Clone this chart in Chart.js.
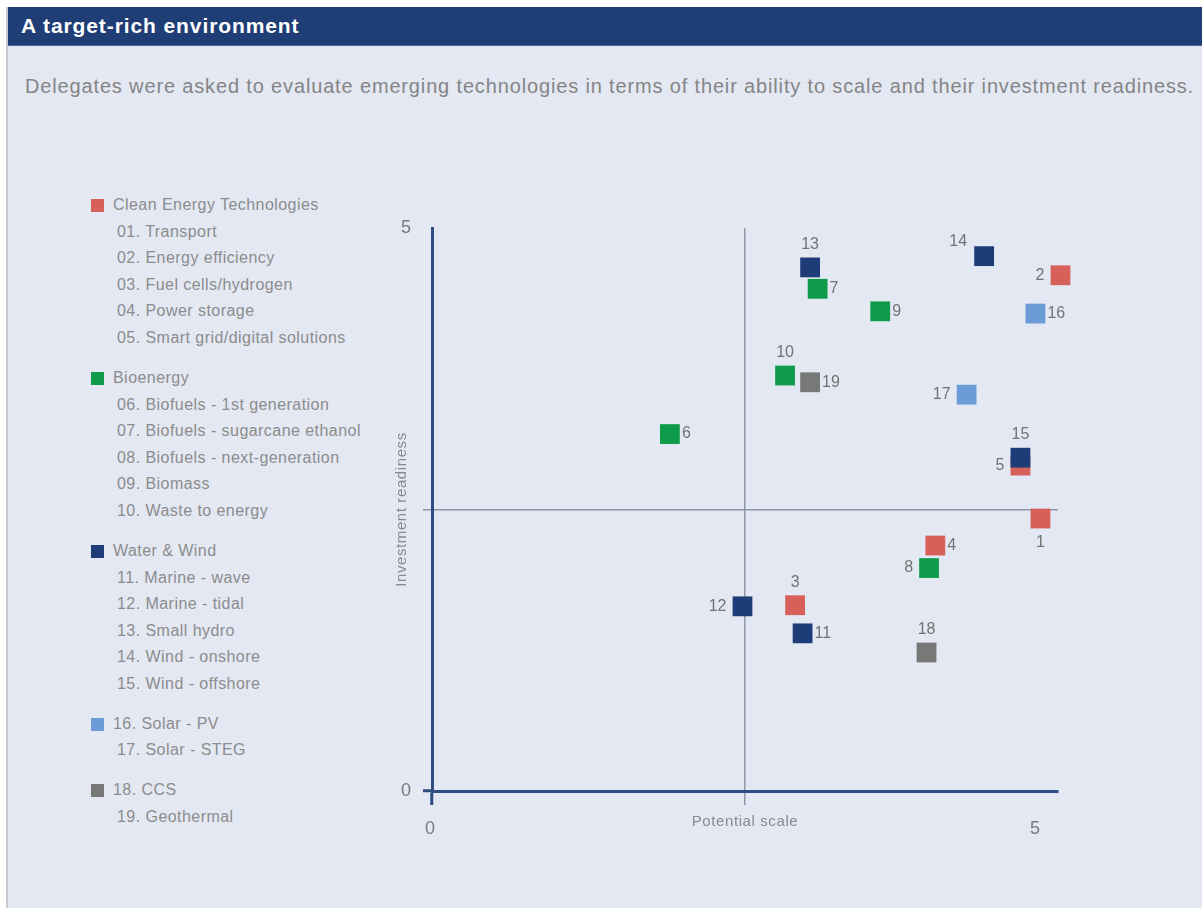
<!DOCTYPE html>
<html>
<head>
<meta charset="utf-8">
<title>A target-rich environment</title>
<script src="https://cdn.jsdelivr.net/npm/chart.js@4"></script>
<style>
  body { margin: 0; width: 1202px; height: 910px; background: #fff; position: relative; overflow: hidden;
         font-family: "Liberation Sans", Arial, sans-serif; }
  #panel { position: absolute; left: 6px; top: 7px; right: 0; bottom: 2px; background: #e3e8f3;
           border-left: 2px solid #c3c8d1; }
  #head { position: absolute; left: 0; top: 0; right: 0; height: 38px; background: #1f3e76;
          border-bottom: 1px solid #4a6898; color: #fff; font-weight: bold; font-size: 21px;
          letter-spacing: 0.9px; line-height: 37px; padding-left: 13px; }
  #sub { position: absolute; left: 17px; top: 68px; font-size: 20px; letter-spacing: 0.85px;
         color: #858585; white-space: nowrap; }
  #legend { position: absolute; left: 0; top: 185px; font-size: 16px; letter-spacing: 0.45px; color: #8c8c8c; }
  .row { position: relative; height: 26.6px; line-height: 26.6px; padding-left: 105px; white-space: nowrap; }
  .row.sub { padding-left: 109px; }
  .row.gap { margin-top: 13.4px; }
  .sw { position: absolute; left: 83px; top: 7px; width: 13px; height: 13px; }
  #plot { position: absolute; left: 332px; top: 193px; width: 760px; height: 680px; }
</style>
</head>
<body>
<div id="panel">
  <div id="head">A target-rich environment</div>
  <div id="sub">Delegates were asked to evaluate emerging technologies in terms of their ability to scale and their investment readiness.</div>
  <div id="legend"></div>
  <div id="plot"><canvas id="matrix"></canvas></div>
</div>
<script>
// technology groups and their colours
const groupNames = ['Clean Energy Technologies', 'Bioenergy', 'Water & Wind', null, null];
const groupColors = ['#d8605b', '#0f9c4a', '#1e3d78', '#6b9cd7', '#787878'];

// one entry per technology, numbered 1..19
const techNames = [
  'Transport', 'Energy efficiency', 'Fuel cells/hydrogen', 'Power storage', 'Smart grid/digital solutions',
  'Biofuels - 1st generation', 'Biofuels - sugarcane ethanol', 'Biofuels - next-generation', 'Biomass', 'Waste to energy',
  'Marine - wave', 'Marine - tidal', 'Small hydro', 'Wind - onshore', 'Wind - offshore',
  'Solar - PV', 'Solar - STEG',
  'CCS', 'Geothermal'
];
const techGroup = [0, 0, 0, 0, 0, 1, 1, 1, 1, 1, 2, 2, 2, 2, 2, 3, 3, 4, 4];
const potentialScale = [4.86, 5.02, 2.9, 4.02, 4.7, 1.9, 3.08, 3.97, 3.58, 2.82,
                        2.96, 2.48, 3.02, 4.41, 4.7, 4.82, 4.27, 3.95, 3.02];
const investmentReadiness = [2.42, 4.58, 1.65, 2.18, 2.89, 3.17, 4.46, 1.98, 4.26, 3.69,
                             1.4, 1.64, 4.65, 4.75, 2.96, 4.24, 3.52, 1.23, 3.63];

// which side of its marker each number is written on
const labelSide = ['bottom', 'left', 'top', 'right', 'left', 'right', 'right', 'left', 'right', 'top',
                   'right', 'left', 'top', 'upleft', 'top', 'right', 'left', 'top', 'right'];

const axisColor = '#2f4d82';
const midColor = '#8c97a9';
const textGrey = '#7a7a7a';
const fontFamily = '"Liberation Sans", Arial, sans-serif';

// legend on the left
const legend = document.getElementById('legend');
techNames.forEach((name, i) => {
  const g = techGroup[i];
  const first = i === 0 || techGroup[i - 1] !== g;
  const swatch = '<span class="sw" style="background:' + groupColors[g] + '"></span>';
  if (first && groupNames[g]) {
    const head = document.createElement('div');
    head.className = 'row' + (i > 0 ? ' gap' : '');
    head.innerHTML = swatch + groupNames[g];
    legend.appendChild(head);
  }
  const row = document.createElement('div');
  const ownSwatch = first && !groupNames[g];
  row.className = 'row' + (ownSwatch ? ' gap' : ' sub');
  row.innerHTML = (ownSwatch ? swatch : '') + String(i + 1).padStart(2, '0') + '. ' + name;
  legend.appendChild(row);
});

// one scatter dataset per group; later groups sit on top
const datasets = groupColors.map((color, g) => ({
  data: techNames.map((n, i) => ({ x: potentialScale[i], y: investmentReadiness[i], n: i + 1 }))
                 .filter((p) => techGroup[p.n - 1] === g),
  backgroundColor: color,
  borderWidth: 0,
  pointStyle: 'rect',
  pointRadius: 14,
  pointHoverRadius: 14,
  order: groupColors.length - g,
  clip: false
}));

// numbers next to the markers
const numberLabels = {
  id: 'numberLabels',
  afterDatasetsDraw(chart) {
    const ctx = chart.ctx;
    ctx.save();
    ctx.font = '16px ' + fontFamily;
    ctx.fillStyle = '#737373';
    ctx.textBaseline = 'middle';
    chart.data.datasets.forEach((ds, di) => {
      chart.getDatasetMeta(di).data.forEach((pt, j) => {
        const n = ds.data[j].n;
        const side = labelSide[n - 1];
        let x = pt.x, y = pt.y;
        if (side === 'right') { ctx.textAlign = 'left'; x += 12; }
        else if (side === 'left') { ctx.textAlign = 'right'; x -= 16; }
        else if (side === 'upleft') { ctx.textAlign = 'right'; x -= 17; y -= 15; }
        else if (side === 'top') { ctx.textAlign = 'center'; y -= 23; }
        else { ctx.textAlign = 'center'; y += 24; }
        ctx.fillText(String(n), x, y);
      });
    });
    ctx.restore();
  }
};

// tick numbers and axis titles
const axisText = {
  id: 'axisText',
  afterDraw(chart) {
    const { ctx, chartArea, scales } = chart;
    const xs = scales.x, ys = scales.y;
    ctx.save();
    ctx.fillStyle = textGrey;
    ctx.textBaseline = 'middle';
    ctx.font = '18px ' + fontFamily;
    ctx.textAlign = 'right';
    ctx.fillText('5', chartArea.left - 21, ys.getPixelForValue(5));
    ctx.fillText('0', chartArea.left - 21, ys.getPixelForValue(0));
    ctx.textAlign = 'center';
    ctx.fillText('0', xs.getPixelForValue(0) - 2, chartArea.bottom + 38);
    ctx.fillText('5', xs.getPixelForValue(5) - 23, chartArea.bottom + 38);
    ctx.font = '15px ' + fontFamily;
    ctx.letterSpacing = '0.6px';
    ctx.fillStyle = '#8a8a8a';
    ctx.fillText('Potential scale', xs.getPixelForValue(2.5), chartArea.bottom + 31);
    ctx.translate(chartArea.left - 30, ys.getPixelForValue(2.5));
    ctx.rotate(-Math.PI / 2);
    ctx.fillText('Investment readiness', 0, 0);
    ctx.restore();
  }
};

new Chart(document.getElementById('matrix'), {
  type: 'scatter',
  data: { datasets: datasets },
  options: {
    responsive: true,
    maintainAspectRatio: false,
    animation: false,
    events: [],
    layout: { padding: { left: 32, right: 42, top: 28, bottom: 29 } },
    plugins: { legend: { display: false }, tooltip: { enabled: false } },
    scales: {
      x: {
        min: 0, max: 5,
        afterFit: (s) => { s.height = 60; },
        ticks: { stepSize: 2.5, display: false },
        grid: {
          color: (c) => (c.tick && c.tick.value === 2.5 ? midColor : 'transparent'),
          lineWidth: 1.5,
          tickLength: 14,
          tickColor: (c) => (c.tick.value === 0 ? axisColor : c.tick.value === 2.5 ? midColor : 'transparent'),
          tickWidth: (c) => (c.tick.value === 0 ? 3 : 1.5)
        },
        border: { color: axisColor, width: 3 }
      },
      y: {
        min: 0, max: 5,
        afterFit: (s) => { s.width = 60; },
        ticks: { stepSize: 2.5, display: false },
        grid: {
          color: (c) => (c.tick && c.tick.value === 2.5 ? midColor : 'transparent'),
          lineWidth: 1.5,
          tickLength: 9,
          tickColor: (c) => (c.tick.value === 0 ? axisColor : c.tick.value === 2.5 ? midColor : 'transparent'),
          tickWidth: (c) => (c.tick.value === 0 ? 3 : 1.5)
        },
        border: { color: axisColor, width: 3 }
      }
    }
  },
  plugins: [numberLabels, axisText]
});
</script>
</body>
</html>
